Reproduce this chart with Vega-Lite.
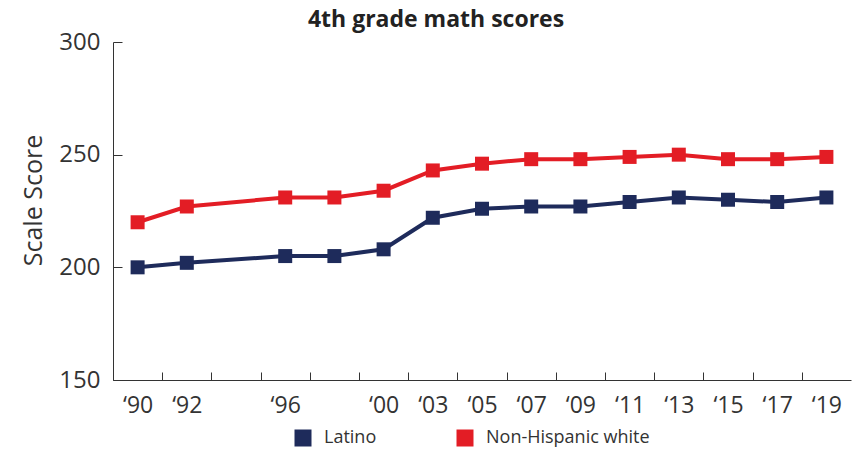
{
  "$schema": "https://vega.github.io/schema/vega-lite/v6.json",
  "width": 738,
  "height": 338,
  "autosize": {"type": "none"},
  "padding": {"left": 113, "top": 42, "right": 4, "bottom": 69},
  "background": "white",
  "title": {
    "text": "4th grade math scores",
    "fontSize": 23,
    "fontWeight": "bold",
    "font": "Open Sans",
    "color": "#222222",
    "anchor": "middle",
    "frame": "group",
    "dx": -46,
    "offset": -2
  },
  "config": {
    "view": {"stroke": null},
    "axis": {
      "labelFont": "Open Sans",
      "titleFont": "Open Sans",
      "labelColor": "#333333",
      "titleColor": "#333333",
      "domainColor": "#333333",
      "tickColor": "#333333",
      "grid": false
    }
  },
  "data": {
    "values": [
      {"slot": "1990", "series": "Latino", "score": 200},
      {"slot": "1992", "series": "Latino", "score": 202},
      {"slot": "1996", "series": "Latino", "score": 205},
      {"slot": "1996b", "series": "Latino", "score": 205},
      {"slot": "2000", "series": "Latino", "score": 208},
      {"slot": "2003", "series": "Latino", "score": 222},
      {"slot": "2005", "series": "Latino", "score": 226},
      {"slot": "2007", "series": "Latino", "score": 227},
      {"slot": "2009", "series": "Latino", "score": 227},
      {"slot": "2011", "series": "Latino", "score": 229},
      {"slot": "2013", "series": "Latino", "score": 231},
      {"slot": "2015", "series": "Latino", "score": 230},
      {"slot": "2017", "series": "Latino", "score": 229},
      {"slot": "2019", "series": "Latino", "score": 231},
      {"slot": "1990", "series": "Non-Hispanic white", "score": 220},
      {"slot": "1992", "series": "Non-Hispanic white", "score": 227},
      {"slot": "1996", "series": "Non-Hispanic white", "score": 231},
      {"slot": "1996b", "series": "Non-Hispanic white", "score": 231},
      {"slot": "2000", "series": "Non-Hispanic white", "score": 234},
      {"slot": "2003", "series": "Non-Hispanic white", "score": 243},
      {"slot": "2005", "series": "Non-Hispanic white", "score": 246},
      {"slot": "2007", "series": "Non-Hispanic white", "score": 248},
      {"slot": "2009", "series": "Non-Hispanic white", "score": 248},
      {"slot": "2011", "series": "Non-Hispanic white", "score": 249},
      {"slot": "2013", "series": "Non-Hispanic white", "score": 250},
      {"slot": "2015", "series": "Non-Hispanic white", "score": 248},
      {"slot": "2017", "series": "Non-Hispanic white", "score": 248},
      {"slot": "2019", "series": "Non-Hispanic white", "score": 249}
    ]
  },
  "layer": [
    {
      "mark": {"type": "line", "strokeWidth": 4},
      "encoding": {
        "x": {
          "field": "slot",
          "type": "ordinal",
          "scale": {
            "type": "point",
            "domain": ["1990", "1992", "1994", "1996", "1996b", "2000", "2003", "2005", "2007", "2009", "2011", "2013", "2015", "2017", "2019"],
            "padding": 0.5
          },
          "axis": {
            "title": null,
            "labelAngle": 0,
            "labelFontSize": 23,
            "tickSize": -8,
            "tickOffset": -24.6,
            "labelOffset": 24.6,
            "labelPadding": 22,
            "labelExpr": "(datum.value == '1994' || datum.value == '1996b') ? '' : '‘' + slice(datum.value, 2)"
          }
        },
        "y": {
          "field": "score",
          "type": "quantitative",
          "scale": {"domain": [150, 300], "nice": false, "zero": false},
          "axis": {
            "values": [150, 200, 250, 300],
            "title": "Scale Score",
            "titleFontSize": 25,
            "titleFontWeight": "normal",
            "titleX": -67,
            "titleY": 158,
            "labelFontSize": 24,
            "tickSize": -9,
            "labelPadding": 22
          }
        },
        "color": {
          "field": "series",
          "type": "nominal",
          "scale": {"domain": ["Latino", "Non-Hispanic white"], "range": ["#1e2b5b", "#e31d25"]},
          "legend": {
            "title": null,
            "orient": "none",
            "direction": "horizontal",
            "legendX": 181,
            "legendY": 387,
            "symbolType": "square",
            "symbolSize": 289,
            "symbolStrokeWidth": 0,
            "labelFont": "Open Sans",
            "labelFontSize": 18,
            "labelColor": "#333333",
            "labelOffset": 12,
            "labelLimit": 400,
            "columnPadding": 79
          }
        }
      }
    },
    {
      "mark": {"type": "point", "shape": "square", "filled": true, "size": 196, "opacity": 1},
      "encoding": {
        "x": {"field": "slot", "type": "ordinal"},
        "y": {"field": "score", "type": "quantitative"},
        "color": {"field": "series", "type": "nominal"}
      }
    }
  ]
}
